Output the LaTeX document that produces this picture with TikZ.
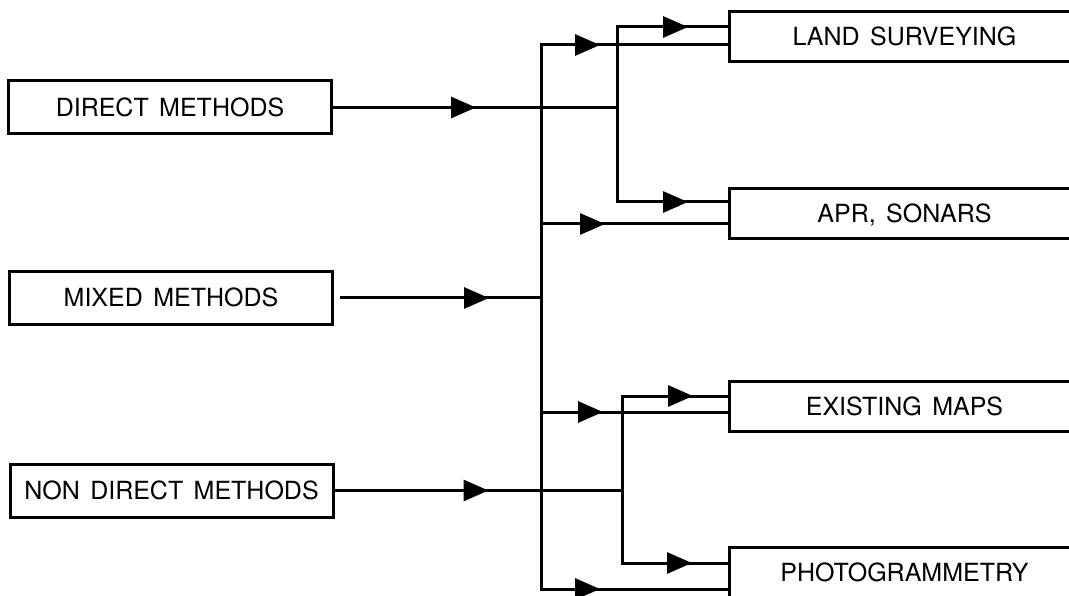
\documentclass[tikz,border=0pt]{standalone}
\usepackage{fontspec}
\setmainfont{TeX Gyre Heros}[WordSpace=1.5]
\usepackage{tikz}
\usetikzlibrary{
  arrows.meta,
  decorations.markings,
}

\begin{document}
\begin{tikzpicture}[
    x=1pt, y=-1pt,
    line width=3pt, line cap=rect,
    method/.style={draw, minimum width=323pt, minimum height=53pt,
                   inner sep=0pt, text height=18pt, text depth=0pt,
                   font=\fontsize{25}{30}\selectfont},
    survey/.style={method, anchor=west, minimum width=350pt, minimum height=50pt},
    flow/.style={postaction={decorate}, decoration={markings,
                 mark=at position #1 with {\arrow{Triangle[length=25pt, width=21pt]}}}},
  ]
  \useasboundingbox (0,0) rectangle (1069,596);
  \clip (0,0) rectangle (1069,596);

  % methods
  \node[method] (direct)    at (170,107.5)   {DIRECT METHODS};
  \node[method] (mixed)     at (171,298)     {MIXED METHODS};
  \node[method] (nondirect) at (171.5,490.5) {NON DIRECT METHODS};

  % techniques
  \node[survey] (land)     at (728,37)  {LAND SURVEYING};
  \node[survey] (apr)      at (728,214) {APR, SONARS};
  \node[survey] (existing) at (728,406) {EXISTING MAPS};
  \node[survey] (photo)    at (728,572) {PHOTOGRAMMETRY};

  % buses
  \coordinate (m1) at (541,45);
  \coordinate (m2) at (541,224);
  \coordinate (m3) at (541,412);
  \coordinate (m4) at (541,589);
  \coordinate (u1) at (617,27);
  \coordinate (u2) at (617,202);
  \coordinate (l1) at (622,396);
  \coordinate (l2) at (622,563);

  \draw (m1) -- (m4);
  \draw (u1) -- (u2);
  \draw (l1) -- (l2);

  \draw[flow=143pt] (direct.east) -- (direct.east -| u1);
  \draw[flow=148pt] ([xshift=7pt]mixed.east) -- (mixed.east -| m1);
  \draw[flow=154pt] (nondirect.east) -- (nondirect.east -| l1);

  \draw[flow=59pt] (m1) -- (m1 -| land.west);
  \draw[flow=64pt] (m2) -- (m2 -| apr.west);
  \draw[flow=62pt] (m3) -- (m3 -| existing.west);
  \draw[flow=59pt] (m4) -- (m4 -| photo.west);

  \draw[flow=71pt] (u1) -- (u1 -| land.west);
  \draw[flow=71pt] (u2) -- (u2 -| apr.west);
  \draw[flow=71pt] (l1) -- (l1 -| existing.west);
  \draw[flow=70pt] (l2) -- (l2 -| photo.west);
\end{tikzpicture}
\end{document}
